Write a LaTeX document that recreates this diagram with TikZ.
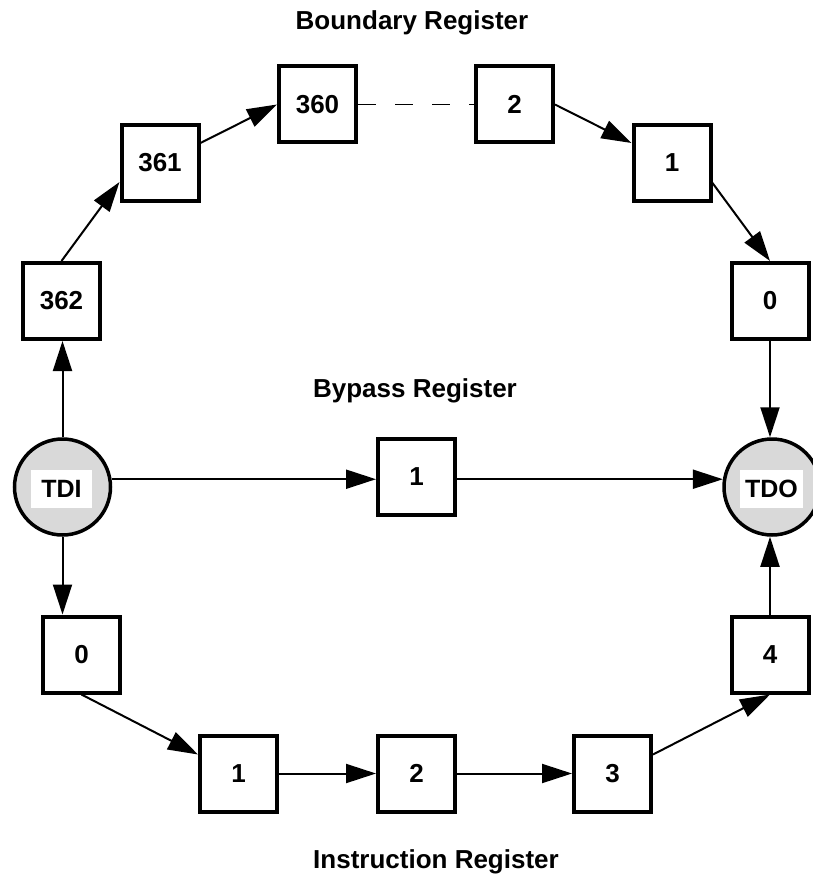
\documentclass[tikz,border=0pt]{standalone}
\usepackage{fontspec}
\setmainfont{Liberation Sans}
\usetikzlibrary{arrows.meta,calc}
\begin{document}
\begin{tikzpicture}[x=1pt,y=-1pt,
  reg/.style={draw, line width=4pt, minimum width=77pt, minimum height=76pt, inner sep=0pt, font=\bfseries\fontsize{26}{30}\selectfont},
  port/.style={circle, draw, line width=3.5pt, fill=black!15, minimum size=96pt, inner sep=0pt},
  portlabel/.style={fill=white, minimum width=61pt, minimum height=38pt, inner sep=0pt, font=\bfseries\fontsize{25}{30}\selectfont},
  title/.style={font=\bfseries\fontsize{26}{30}\selectfont, inner sep=0pt},
  link/.style={line width=2pt, -{Triangle[length=30pt,width=19pt]}},
  dashlink/.style={line width=1.2pt, dash pattern=on 18pt off 19pt}
]
\fill[white] (0,0) rectangle (812,877);
\useasboundingbox (0,0) rectangle (812,877);

% titles
\node[title, anchor=base] (tbound) at (412,29.5) {Boundary Register};
\node[title, anchor=base] (tbyp) at (415,397) {Bypass Register};
\node[title, anchor=base west] (tinstr) at (313,868) {Instruction Register};

% boundary register
\node[reg] (b362) at (61.5,301) {362};
\node[reg] (b361) at (160,163) {361};
\node[reg] (b360) at (317.5,104.5) {360};
\node[reg] (b2) at (514.5,104.5) {2};
\node[reg] (b1) at (672,163) {1};
\node[reg] (b0) at (770,301) {0};

% ports
\node[port] (tdi) at (62.5,487) {};
\node[portlabel] (tdil) at (61.5,489) {TDI};
\node[port] (tdo) at (772,487) {};
\node[portlabel, minimum width=63pt] (tdol) at (771.5,489) {TDO};

% bypass
\node[reg] (byp) at (416.5,477) {1};

% instruction register
\node[reg] (ir0) at (81.5,654.5) {0};
\node[reg] (ir1) at (238.5,773.5) {1};
\node[reg] (ir2) at (416.5,773.5) {2};
\node[reg] (ir3) at (612.5,773.5) {3};
\node[reg] (ir4) at (770,654.5) {4};

% boundary chain
\draw[link] (tdi.north) -- (tdi.north |- b362.south);
\draw[link] (b362.north) -- ($(b361.west)+(0,19)$);
\draw[link] ($(b361.east)+(0,-20)$) -- (b360.west);
\draw[dashlink] (b360.east) -- (b2.west);
\draw[link] (b2.east) -- ($(b1.west)+(0,-20)$);
\draw[link] ($(b1.east)+(0,20)$) -- (b0.north);
\draw[link] (b0.south) -- (b0.south |- tdo.north);

% bypass
\draw[link] (tdi.9) -- (tdi.9 -| byp.west);
\draw[link] (byp.east |- tdo.171) -- (tdo.171);

% instruction chain
\draw[link] (tdi.south) -- (tdi.south |- ir0.north);
\draw[link] (ir0.south) -- ($(ir1.west)+(0,-19)$);
\draw[link] (ir1.east) -- (ir2.west);
\draw[link] (ir2.east) -- (ir3.west);
\draw[link] ($(ir3.east)+(0,-19)$) -- (ir4.south);
\draw[link] (ir4.north) -- (ir4.north |- tdo.south);
\end{tikzpicture}
\end{document}
